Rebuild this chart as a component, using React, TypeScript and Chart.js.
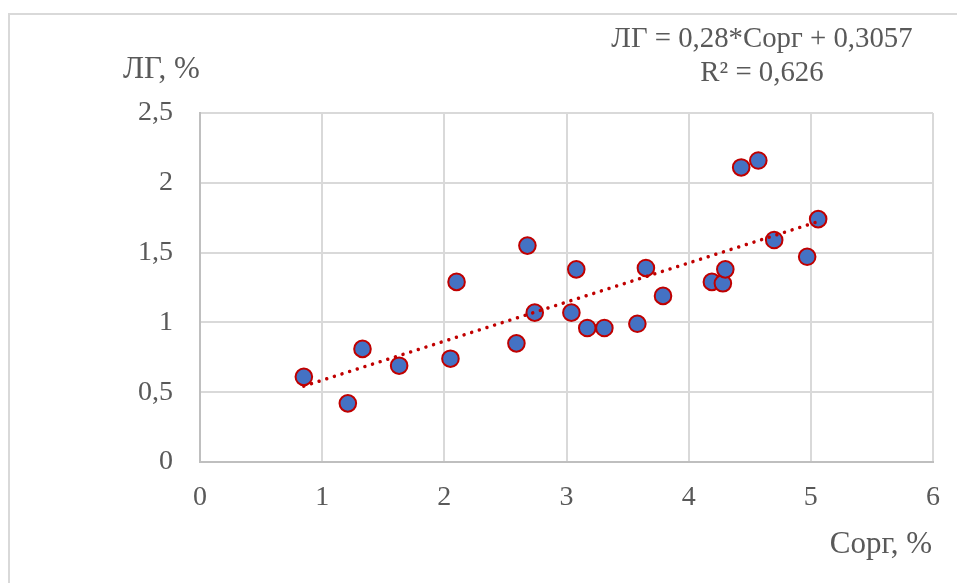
import React, { useEffect, useRef } from "react";
import { Chart, registerables } from "chart.js";

Chart.register(...registerables);

const corgValues = [0.85, 1.21, 1.33, 1.63, 2.05, 2.10, 2.59, 2.68, 2.74, 3.04, 3.08, 3.17, 3.31, 3.58, 3.65, 3.79, 4.19, 4.28, 4.30, 4.43, 4.57, 4.70, 4.97, 5.06];
const lgValues = [0.61, 0.42, 0.81, 0.69, 0.74, 1.29, 0.85, 1.55, 1.07, 1.07, 1.38, 0.96, 0.96, 0.99, 1.39, 1.19, 1.29, 1.28, 1.38, 2.11, 2.16, 1.59, 1.47, 1.74];
const trendX = [0.85, 5.06];
const trendY = [0.5437, 1.7225];
const xTicks = [0, 1, 2, 3, 4, 5, 6];
const yTicks = [0, 0.5, 1, 1.5, 2, 2.5];
const equationText = "ЛГ = 0,28*Сорг + 0,3057";
const r2Text = "R² = 0,626";
const yTitle = "ЛГ, %";
const xTitle = "Сорг, %";

const FONT = "'Liberation Serif', 'Times New Roman', serif";
const TEXT = "#595959";

const overlay = {
  id: "overlay",
  beforeDraw(chart: any) {
    const ctx = chart.ctx;
    ctx.save();
    ctx.fillStyle = "#ffffff";
    ctx.fillRect(0, 0, chart.width, chart.height);
    ctx.strokeStyle = "#d9d9d9";
    ctx.lineWidth = 2;
    ctx.beginPath();
    ctx.moveTo(9, chart.height);
    ctx.lineTo(9, 14);
    ctx.lineTo(chart.width, 14);
    ctx.stroke();
    ctx.restore();
  },
  afterDraw(chart: any) {
    const ctx = chart.ctx;
    ctx.save();
    ctx.fillStyle = TEXT;
    ctx.textBaseline = "middle";
    ctx.font = `28.8px ${FONT}`;
    ctx.textAlign = "center";
    ctx.fillText(equationText, 762, 39);
    ctx.fillText(r2Text, 762, 73);
    ctx.font = `31px ${FONT}`;
    ctx.textAlign = "left";
    ctx.fillText(yTitle, 123, 70);
    ctx.textAlign = "right";
    ctx.fillText(xTitle, 932, 545);
    ctx.restore();
  },
};

export default function App() {
  const ref = useRef<HTMLCanvasElement | null>(null);
  useEffect(() => {
    if (!ref.current) return;
    const chart = new Chart(ref.current, {
      type: "scatter",
      data: {
        datasets: [
          {
            type: "line",
            data: trendX.map((x, i) => ({ x, y: trendY[i] })),
            borderColor: "#C00000",
            borderWidth: 3.5,
            borderDash: [0.01, 8],
            borderCapStyle: "round",
            pointRadius: 0,
            fill: false,
            order: 0,
          } as any,
          {
            data: corgValues.map((x, i) => ({ x, y: lgValues[i] })),
            backgroundColor: "#4472C4",
            borderColor: "#C00000",
            borderWidth: 2,
            pointRadius: 8.3,
            order: 1,
          },
        ],
      },
      options: {
        animation: false,
        responsive: false,
        maintainAspectRatio: false,
        layout: { padding: { left: 0, right: 24, top: 113, bottom: 0 } },
        plugins: { legend: { display: false }, tooltip: { enabled: false } },
        scales: {
          x: {
            type: "linear",
            min: 0,
            max: 6,
            afterBuildTicks: (s: any) => { s.ticks = xTicks.map((v) => ({ value: v })); },
            afterFit: (s: any) => { s.height = 121; s.paddingLeft = 0; s.paddingRight = 0; },
            grid: { color: "#d9d9d9", lineWidth: 2, drawTicks: false },
            border: { color: "#bfbfbf", width: 2 },
            ticks: { color: TEXT, font: { family: FONT, size: 28 }, padding: 19, maxRotation: 0 },
          },
          y: {
            type: "linear",
            min: 0,
            max: 2.5,
            afterBuildTicks: (s: any) => { s.ticks = yTicks.map((v) => ({ value: v })); },
            afterFit: (s: any) => { s.width = 200; s.paddingTop = 0; s.paddingBottom = 0; },
            grid: { color: "#d9d9d9", lineWidth: 2, drawTicks: false },
            border: { color: "#bfbfbf", width: 2 },
            ticks: {
              color: TEXT,
              font: { family: FONT, size: 28 },
              padding: 27,
              callback: (v: any) => String(v).replace(".", ","),
            },
          },
        },
      },
      plugins: [overlay],
    });
    return () => chart.destroy();
  }, []);
  return (
    <div style={{ position: "absolute", left: 0, top: 0, width: 957, height: 583 }}>
      <canvas ref={ref} width={957} height={583} style={{ width: 957, height: 583 }} />
    </div>
  );
}
